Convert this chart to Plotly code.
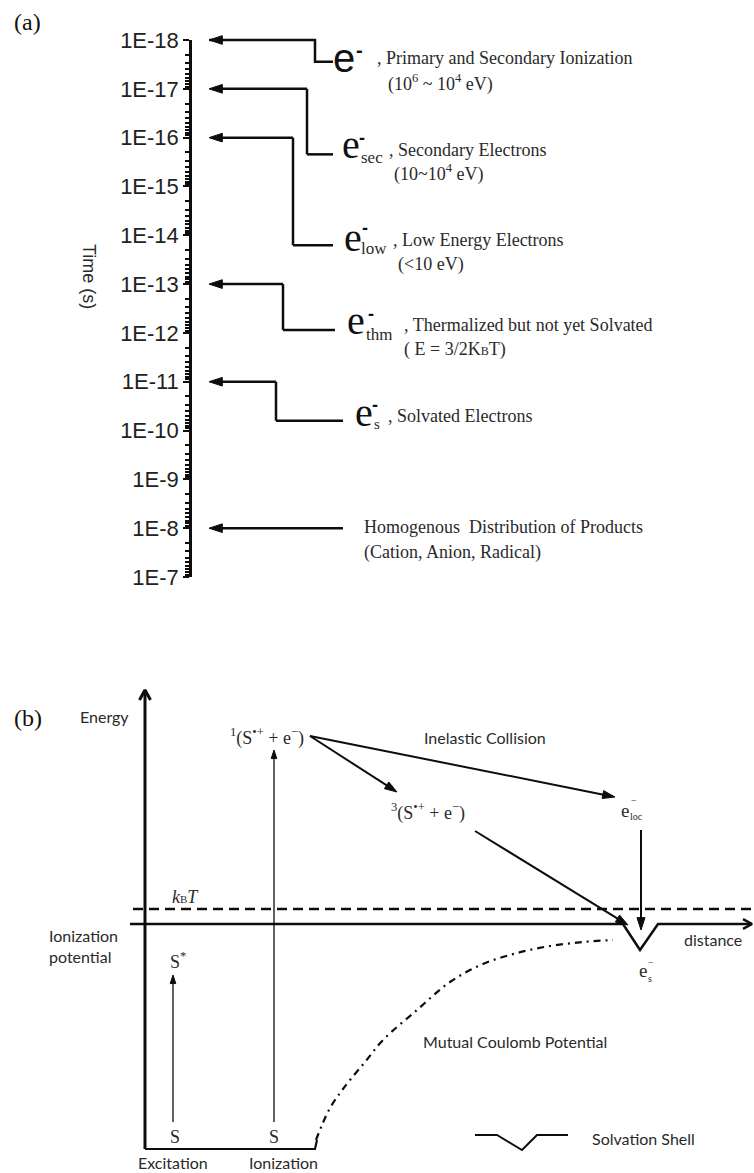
import math
import plotly.graph_objects as go

W, H = 754, 1173

# ---------------- (a) time scale of electron relaxation ----------------
tick_vals = [1e-18, 1e-17, 1e-16, 1e-15, 1e-14, 1e-13, 1e-12, 1e-11, 1e-10, 1e-9, 1e-8, 1e-7]
tick_text = ["1E-18", "1E-17", "1E-16", "1E-15", "1E-14", "1E-13",
             "1E-12", "1E-11", "1E-10", "1E-9", "1E-8", "1E-7"]
minor_vals = [m * d for d in tick_vals[:-1] for m in (2, 3, 4, 5, 6, 7, 8, 9)]

# time at which each stage ends (arrow tip) and where its bracket drops to
event_times = [1e-18, 1e-17, 1e-16, 1e-13, 1e-11, 1e-8]
drop_times = [2.8e-18, 2.2e-16, 1.6e-14, 8.7e-13, 6.3e-11, 1e-8]

# bracket geometry on the horizontal (pixel-like) scale of panel (a)
tip_x = 209
corner_x = [315, 307, 293, 283, 276, 343]
end_x = [333, 333, 333, 335, 343, 343]

# ---------------- (b) energy diagram ----------------
# x = distance (diagram units), y = energy relative to ionization potential
coulomb_x = [316, 322, 330, 340, 350, 365, 383, 417, 450, 483, 517, 550, 583, 613]
coulomb_y = [-216, -201, -184, -169, -156, -138, -116, -86, -58, -40, -29, -22, -18, -16]
ip_x = [130, 623, 640, 658, 752]
ip_y = [0, 0, -26, 0, 0]
kbt_level = 15
ground_x = [145, 315, 317]
ground_y = [-225, -225, -216]
energy_axis_x = [145, 145]
energy_axis_y = [-225, 234]
shell_key_x = [475, 497, 522, 537, 568]
shell_key_y = [-211, -211, -226, -211, -211]
# transitions: (from x, from y, to x, to y, line width)
transitions = [
    (173, -198, 173, -51, 1.3),   # excitation
    (274, -198, 274, 174, 1.3),   # ionization
    (310, 188, 615, 127, 2.0),    # inelastic collision -> e_loc
    (310, 188, 397, 132, 2.0),    # singlet -> triplet pair
    (475, 93, 628, -1, 2.0),      # triplet pair -> solvation
    (641, 94, 641, -6, 2.0),      # e_loc -> solvation
]

SERIF = "Liberation Serif"
ARIAL = "Liberation Sans"
SANS = "Lato"
INK = "#0d0d0d"
TXT = "#2a2a2a"

# time axis placement (pixels from the top of the page)
AX_TOP, AX_BOT = 40, 577
LOG_TOP, LOG_BOT = -18, -7
PX_PER_DECADE = (AX_BOT - AX_TOP) / (LOG_BOT - LOG_TOP)
PAD = 14  # extra room so bracket lines are not clipped at the axis ends


def px(x):
    return x / W


def py(y):
    return 1 - y / H


fig = go.Figure()
annotations = []


def text(x, y, s, size, family=SERIF, xa="left", ya="middle", color=TXT, angle=0,
         align="left", weight="normal"):
    annotations.append(dict(x=px(x), y=py(y), xref="paper", yref="paper", text=s,
                            showarrow=False, xanchor=xa, yanchor=ya, align=align,
                            textangle=angle,
                            font=dict(family=family, size=size, color=color, weight=weight)))


def arrow_line(xs, ys, xa, ya, width, head):
    """Polyline ending in a filled arrow head at its last point."""
    sizes = [0] * (len(xs) - 1) + [head]
    fig.add_trace(go.Scatter(x=xs, y=ys, mode="lines+markers", xaxis=xa, yaxis=ya,
                             line=dict(color=INK, width=width),
                             marker=dict(symbol="arrow", angleref="previous", size=sizes,
                                         color=INK, opacity=1, line=dict(width=1, color=INK)),
                             hoverinfo="skip"))


def chevron(x, y, dx, dy, xa, ya, width):
    """Open arrow head at (x, y) opening back along (dx, dy)."""
    if dx == 0:
        xs, ys = [x - dy * 0.55, x, x + dy * 0.55], [y + dy, y, y + dy]
    else:
        xs, ys = [x + dx, x, x + dx], [y - dx * 0.55, y, y + dx * 0.55]
    fig.add_trace(go.Scatter(x=xs, y=ys, mode="lines", xaxis=xa, yaxis=ya,
                             line=dict(color=INK, width=width), hoverinfo="skip"))


# the time axis itself: event instants sit on it (markers kept invisible)
fig.add_trace(go.Scatter(x=[tip_x] * len(event_times), y=event_times, mode="markers",
                         marker=dict(size=1, opacity=0), xaxis="x", yaxis="y",
                         hoverinfo="skip"))

# brackets and arrows of panel (a), on an invisible twin of the time axis
for t, d, cx, ex in zip(event_times, drop_times, corner_x, end_x):
    arrow_line([ex, cx, cx, tip_x], [d, d, t, t], "x", "y3", 2.5, 14)

# panel (b) lines
fig.add_trace(go.Scatter(x=[133, W], y=[kbt_level, kbt_level], mode="lines",
                         line=dict(color=INK, width=2.5, dash="10px,6px"),
                         xaxis="x2", yaxis="y2", hoverinfo="skip"))
fig.add_trace(go.Scatter(x=ip_x, y=ip_y, mode="lines", line=dict(color=INK, width=2.5),
                         xaxis="x2", yaxis="y2", hoverinfo="skip"))
chevron(ip_x[-1], ip_y[-1], -9, 0, "x2", "y2", 2.5)
fig.add_trace(go.Scatter(x=ground_x, y=ground_y, mode="lines", line=dict(color=INK, width=2.2),
                         xaxis="x2", yaxis="y2", hoverinfo="skip"))
fig.add_trace(go.Scatter(x=energy_axis_x, y=energy_axis_y, mode="lines",
                         line=dict(color=INK, width=3), xaxis="x2", yaxis="y2",
                         hoverinfo="skip"))
chevron(energy_axis_x[-1], energy_axis_y[-1], 0, -10, "x2", "y2", 3)
fig.add_trace(go.Scatter(x=coulomb_x, y=coulomb_y, mode="lines", line_shape="spline",
                         line=dict(color=INK, width=2.2, dash="7px,5px,2px,5px"),
                         xaxis="x2", yaxis="y2", hoverinfo="skip"))
fig.add_trace(go.Scatter(x=shell_key_x, y=shell_key_y, mode="lines", line=dict(color=INK, width=2),
                         xaxis="x2", yaxis="y2", hoverinfo="skip"))
for x0, y0, x1, y1, w in transitions:
    arrow_line([x0, x1], [y0, y1], "x2", "y2", w, 9 if w < 2 else 13)

# ---------------- texts, panel (a) ----------------
text(12, 22, "(a)", 24, SERIF, color="#111")
text(89, 276, "Time (s)", 18, ARIAL, xa="center", angle=90)

# e- primary
text(331, 58, "e", 40, ARIAL, color="#111")
text(354, 50, "-", 20, ARIAL, color="#111", weight="bold")
text(375, 58, ", Primary and Secondary Ionization", 18)
text(386, 83, "(10<sup>6</sup> ~ 10<sup>4</sup> eV)", 18)
# e- sec
text(340, 145, "e", 40, color="#111")
text(357, 138, "-", 18, ARIAL, color="#111", weight="bold")
text(359, 157, "sec", 17)
text(387, 150, ", Secondary Electrons", 18)
text(392, 173, "(10~10<sup>4</sup> eV)", 18)
# e- low
text(342, 237, "e", 40, color="#111")
text(360, 228, "-", 18, ARIAL, color="#111", weight="bold")
text(359, 248, "low", 17)
text(391, 240, ", Low Energy Electrons", 18)
text(396, 265, "(<10 eV)", 18)
# e- thm
text(345, 321, "e", 40, color="#111")
text(366, 314, "-", 18, ARIAL, color="#111", weight="bold")
text(364, 334, "thm", 17)
text(402, 325, ", Thermalized but not yet Solvated", 18)
text(402, 350, "( E = 3/2K<span style='font-size:12px'>B</span>T)", 18)
# e- s
text(353, 412, "e", 40, color="#111")
text(370, 405, "-", 18, ARIAL, color="#111", weight="bold")
text(372, 424, "s", 15)
text(386, 416, ", Solvated Electrons", 18)
# products
text(362, 527, "Homogenous  Distribution of Products", 18)
text(362, 552, "(Cation, Anion, Radical)", 18)

# ---------------- texts, panel (b) ----------------
text(12, 718, "(b)", 24, SERIF, color="#111")
text(104, 716, "Energy", 16, SANS, xa="center")
text(306, 737, "<sup>1</sup>(S<sup>•+</sup> + e<sup>−</sup>)", 18, SERIF, xa="right")
text(485, 738, "Inelastic Collision", 16, SANS, xa="center")
text(428, 812, "<sup>3</sup>(S<sup>•+</sup> + e<sup>−</sup>)", 18, SERIF, xa="center")
text(619, 810, "e", 19, SERIF)
text(629, 800, "−", 10, SERIF)
text(628, 816, "loc", 10, SERIF)
text(170, 897, "<i>k</i><span style='font-size:11px'>B</span><i>T</i>", 18, SERIF)
text(47, 946, "Ionization<br>potential", 16, SANS, align="left")
text(168, 960, "S<sup>*</sup>", 18, SERIF)
text(175, 1137, "S", 18, SERIF, xa="center")
text(274, 1137, "S", 18, SERIF, xa="center")
text(173, 1162, "Excitation", 16, SANS, xa="center")
text(283, 1162, "Ionization", 16, SANS, xa="center")
text(713, 939, "distance", 16, SANS, xa="center")
text(637, 970, "e", 19, SERIF)
text(646, 962, "−", 10, SERIF)
text(646, 978, "s", 10, SERIF)
text(515, 1041, "Mutual Coulomb Potential", 16, SANS, xa="center")
text(590, 1138, "Solvation Shell", 16, SANS)

pad_dec = PAD / PX_PER_DECADE
fig.update_layout(
    template="none",
    width=W, height=H, autosize=False, margin=dict(l=0, r=0, t=0, b=0, pad=0),
    paper_bgcolor="white", plot_bgcolor="rgba(0,0,0,0)", showlegend=False,
    xaxis=dict(domain=[192 / W, 1], range=[192, W], visible=False, fixedrange=True,
               anchor="y", automargin=False),
    yaxis=dict(type="log", domain=[py(AX_BOT), py(AX_TOP)], range=[LOG_BOT, LOG_TOP],
               anchor="x", automargin=False, showline=True, linewidth=2.5, linecolor=INK,
               ticks="outside", ticklen=6, tickwidth=2, tickcolor=INK,
               tickmode="array", tickvals=tick_vals, ticktext=tick_text,
               tickfont=dict(family=ARIAL, size=22, color="#222"),
               showgrid=False, zeroline=False, fixedrange=True,
               minor=dict(ticks="outside", ticklen=4, tickwidth=1.5, tickcolor=INK,
                          tickmode="array", tickvals=minor_vals, showgrid=False)),
    yaxis3=dict(type="log", domain=[py(AX_BOT + PAD), py(AX_TOP - PAD)],
                range=[LOG_BOT + pad_dec, LOG_TOP - pad_dec], anchor="x", visible=False,
                automargin=False, fixedrange=True),
    xaxis2=dict(domain=[0, 1], range=[0, W], visible=False, anchor="y2", fixedrange=True,
                automargin=False),
    yaxis2=dict(domain=[0, py(640)], range=[-249, 284], visible=False, anchor="x2",
                fixedrange=True, automargin=False),
    annotations=annotations,
)

fig.write_html("out.html", config={"responsive": False, "displayModeBar": False},
               post_script="document.body.style.margin='0';")
